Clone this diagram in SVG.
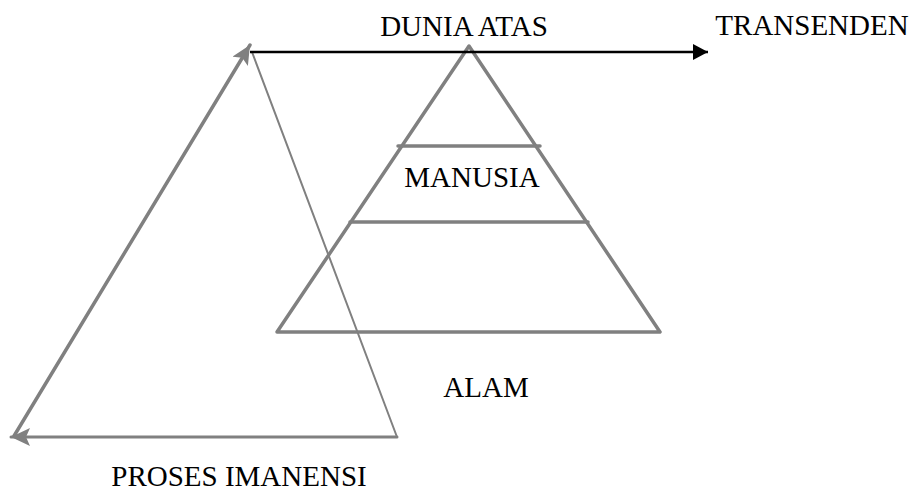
<svg xmlns="http://www.w3.org/2000/svg" width="913" height="493" viewBox="0 0 913 493">
<style>
.lbl{font-family:"Liberation Serif","Times New Roman",serif;font-size:29px;fill:#000}
.g{stroke:#808080;fill:none;stroke-linecap:round}
</style>
<defs>
<marker id="ab" markerUnits="userSpaceOnUse" markerWidth="20" markerHeight="20" refX="15" refY="8" orient="auto"><path d="M0,0 L15,8 L0,16 Z" fill="#000"/></marker>
<marker id="ag" markerUnits="userSpaceOnUse" markerWidth="24" markerHeight="24" refX="19" refY="9" orient="auto"><path d="M0,0 L19,9 L0,18 L4,9 Z" fill="#808080"/></marker>
</defs>
<rect width="913" height="493" fill="#fff"/>
<g id="pyramid">
<path class="g" stroke-width="3.5" d="M277,332 L469,46 L660,332 Z" stroke-linejoin="round"/>
<line class="g" stroke-width="3.5" x1="398" y1="146" x2="540" y2="146"/>
<line class="g" stroke-width="3.5" x1="350" y1="222" x2="588" y2="222"/>
</g>
<g id="process">
<line class="g" stroke-width="2" x1="252" y1="52" x2="397" y2="437"/>
</g>
<g id="connectors">
<line stroke="#000" stroke-width="2.5" x1="250" y1="52" x2="708" y2="52" marker-end="url(#ab)"/>
<line class="g" stroke-width="3.5" x1="14" y1="436" x2="250" y2="45" marker-end="url(#ag)"/>
<line class="g" stroke-width="3" x1="397" y1="437" x2="11" y2="437" marker-end="url(#ag)"/>
</g>
<g id="labels">
<text class="lbl" x="464" y="36" text-anchor="middle">DUNIA ATAS</text>
<text class="lbl" x="812" y="35" text-anchor="middle">TRANSENDEN</text>
<text class="lbl" x="472" y="187" text-anchor="middle">MANUSIA</text>
<text class="lbl" x="486" y="397" text-anchor="middle">ALAM</text>
<text class="lbl" x="239" y="486" text-anchor="middle">PROSES IMANENSI</text>
</g>
</svg>
